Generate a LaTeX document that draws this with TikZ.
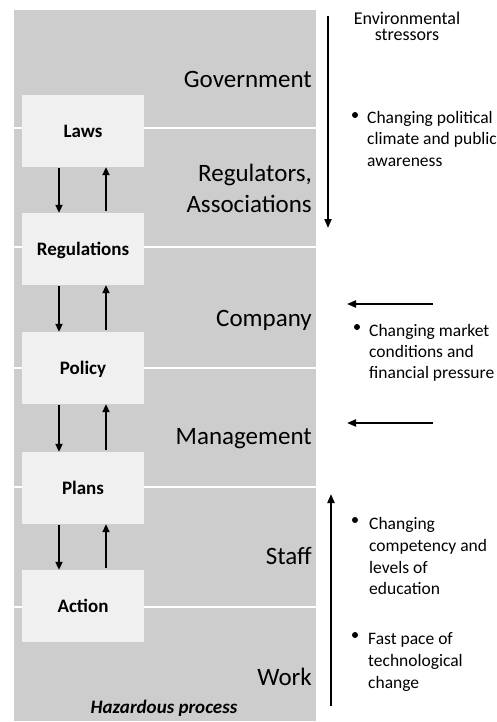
\documentclass[tikz,border=0pt]{standalone}
\usepackage{fontspec}
\setmainfont{Carlito}
\usetikzlibrary{arrows.meta}
\definecolor{panel}{RGB}{205,205,205}
\definecolor{boxfill}{RGB}{240,240,240}
\begin{document}
\begin{tikzpicture}[x=1pt,y=-1pt,
  level/.style={font=\fontsize{25}{30}\selectfont, anchor=base east, inner sep=0pt},
  stage/.style={fill=boxfill, minimum width=122pt, minimum height=72pt, inner sep=0pt,
    font=\fontsize{19}{22}\selectfont\bfseries, text height=12.2pt, text depth=0pt},
  flow/.style={line width=2pt, -{Triangle[length=8pt,width=7pt]}},
  stress/.style={line width=2pt, -{Triangle[length=9pt,width=7pt]}},
  note/.style={font=\fontsize{17.5}{20.5}\selectfont, anchor=base west, inner sep=0pt},
  head/.style={font=\fontsize{18}{16}\selectfont, align=center, anchor=north, inner sep=0pt},
  dot/.style={circle, fill=black, inner sep=0pt, minimum size=6pt},
  sep/.style={white, line width=2pt}]
\fill[white] (0,0) rectangle (497,722);
\useasboundingbox (0,0) rectangle (497,722);
% panel and bands
\fill[panel] (14,10) rectangle (316,721);
\foreach \yy in {128,247,368,487,607} \draw[sep] (14,\yy) -- (316,\yy);
% level labels
\node[level] (gov) at (312,88) {Government};
\node[level] (reg1) at (312,182) {Regulators,};
\node[level] (reg2) at (312,212) {Associations};
\node[level] (comp) at (312,326) {Company};
\node[level] (mgmt) at (312,444) {Management};
\node[level] (staff) at (312,564) {Staff};
\node[level] (work) at (312,685) {Work};
\node[font=\fontsize{19}{22}\selectfont\bfseries\itshape, anchor=base, inner sep=0pt] (haz) at (164,713) {Hazardous process};
% stages
\node[stage] (laws) at (83,131) {Laws};
\node[stage] (regs) at (83,249) {Regulations};
\node[stage] (policy) at (83,368) {Policy};
\node[stage] (plans) at (83,488) {Plans};
\node[stage] (action) at (83,606) {Action};
\foreach \a/\b in {laws/regs, regs/policy, policy/plans, plans/action} {
  \draw[flow, shorten <=1pt] ([xshift=-24pt]\a.south) -- ([xshift=-24pt]\b.north);
  \draw[flow, shorten <=2pt] ([xshift=23pt]\b.north) -- ([xshift=23pt]\a.south);
}
% environmental stressors
\node[head] (env) at (407,12) {Environmental\\stressors};
\coordinate (s1a) at (328,16); \coordinate (s1b) at (328,228);
\draw[stress] (s1a) -- (s1b);
\coordinate (m1a) at (433,304); \coordinate (m1b) at (347,304);
\draw[stress] (m1a) -- (m1b);
\coordinate (m2a) at (433,423); \coordinate (m2b) at (347,423);
\draw[stress] (m2a) -- (m2b);
\coordinate (u1a) at (331,706); \coordinate (u1b) at (331,494);
\draw[stress] (u1a) -- (u1b);
% bullets
\node[dot] (b1) at (355,115) {};
\node[note] (p1) at (367,124) {Changing political};
\node[note] (p2) at (367,145) {climate and public};
\node[note] (p3) at (367,167) {awareness};
\node[dot] (b2) at (357,327) {};
\node[note] (q1) at (369,336) {Changing market};
\node[note] (q2) at (369,357) {conditions and};
\node[note] (q3) at (369,378) {financial pressure};
\node[dot] (b3) at (355,520) {};
\node[note] (r1) at (369,529) {Changing};
\node[note] (r2) at (369,551) {competency and};
\node[note] (r3) at (369,573) {levels of};
\node[note] (r4) at (369,594) {education};
\node[dot] (b4) at (355,635) {};
\node[note] (t1) at (368,644) {Fast pace of};
\node[note] (t2) at (368,666) {technological};
\node[note] (t3) at (368,688) {change};
\end{tikzpicture}
\end{document}
